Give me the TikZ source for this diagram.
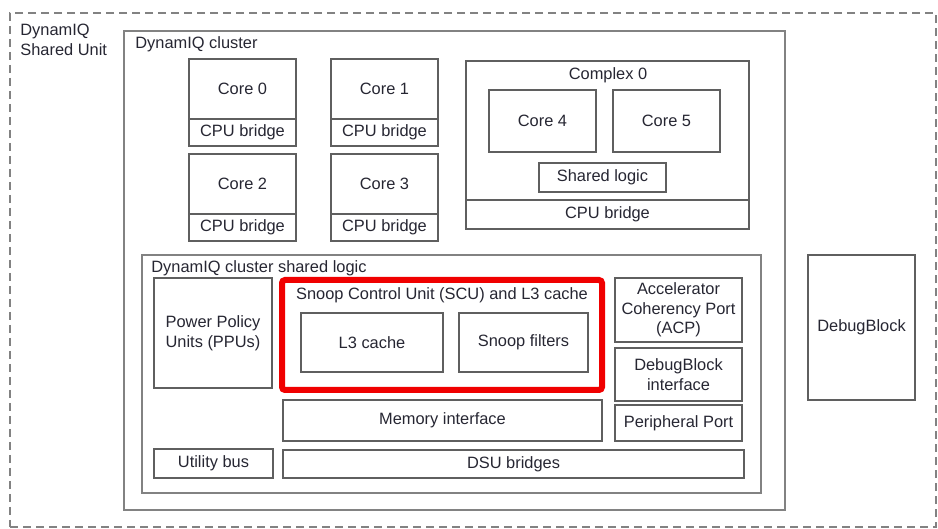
\documentclass[tikz,border=0pt]{standalone}
\usepackage{fontspec}
\setmainfont{Liberation Sans}
\definecolor{txt}{RGB}{38,38,50}
\definecolor{ln}{RGB}{95,95,95}
\definecolor{lnlight}{RGB}{130,130,130}
\definecolor{redbox}{RGB}{240,0,0}
\newcommand\pbox[7][]{%
  \node[boxst,#1,minimum width={(#5-#3)*0.5pt},minimum height={(#6-#4)*0.5pt}]
    (#2) at ({(#3+#5)/2},{(#4+#6)/2}) {#7};}
\begin{document}
\begin{tikzpicture}[x=0.5pt,y=-0.5pt,
  every node/.style={text=txt,font=\fontsize{8.2}{9.8}\selectfont},
  boxst/.style={draw=ln,line width=0.8pt,inner sep=0pt,outer sep=0pt,align=center},
  lbl/.style={anchor=north west,inner sep=0pt,align=left}]
\useasboundingbox (0,0) rectangle (938,529);
% outer dashed unit
\pbox[draw=lnlight,dash pattern=on 4pt off 2.5pt,line width=0.6pt]{dsu}{10}{13}{936}{527}{}
\node[lbl] (dsulbl) at (20,24) {DynamIQ\\Shared Unit};
% cluster
\pbox[draw=lnlight]{cluster}{124}{31}{785}{510}{}
\node[lbl] (clusterlbl) at (135,36) {DynamIQ cluster};
% cores
\pbox{c0}{189}{59}{296}{119}{Core 0}
\pbox{b0}{189}{119}{296}{146}{CPU bridge}
\pbox{c1}{331}{59}{438}{119}{Core 1}
\pbox{b1}{331}{119}{438}{146}{CPU bridge}
\pbox{c2}{189}{154}{296}{214}{Core 2}
\pbox{b2}{189}{214}{296}{241}{CPU bridge}
\pbox{c3}{331}{154}{438}{214}{Core 3}
\pbox{b3}{331}{214}{438}{241}{CPU bridge}
% complex 0
\pbox{cx}{466}{61}{749}{200}{}
\node[inner sep=0pt] (cxlbl) at (608,75) {Complex 0};
\pbox{cxb}{466}{200}{749}{229}{CPU bridge}
\pbox{c4}{489}{90}{596}{152}{Core 4}
\pbox{c5}{613}{90}{720}{152}{Core 5}
\pbox{sl}{539}{163}{666}{192}{Shared logic}
% cluster shared logic
\pbox[draw=lnlight]{csl}{142}{255}{761}{493}{}
\node[lbl] (csllbl) at (151,260) {DynamIQ cluster shared logic};
\pbox{ppu}{154}{278}{272}{388}{Power Policy\\Units (PPUs)}
\pbox[draw=redbox,line width=3pt,rounded corners=1.5pt]{scu}{282}{280}{602}{390}{}
\node[inner sep=0pt] (scu lbl) at (442,295) {Snoop Control Unit (SCU) and L3 cache};
\pbox{l3}{301}{313}{443}{372}{L3 cache}
\pbox{sf}{459}{313}{588}{372}{Snoop filters}
\pbox{mem}{283}{400}{602}{441}{Memory interface}
\pbox{ub}{154}{449}{273}{478}{Utility bus}
\pbox{dsub}{283}{450}{744}{478}{DSU bridges}
\pbox{acp}{615}{278}{742}{342}{Accelerator\\Coherency Port\\(ACP)}
\pbox{dbi}{615}{348}{742}{401}{DebugBlock\\interface}
\pbox{pp}{615}{405}{742}{441}{Peripheral Port}
% debug block
\pbox{db}{808}{255}{915}{400}{DebugBlock}
\end{tikzpicture}
\end{document}
